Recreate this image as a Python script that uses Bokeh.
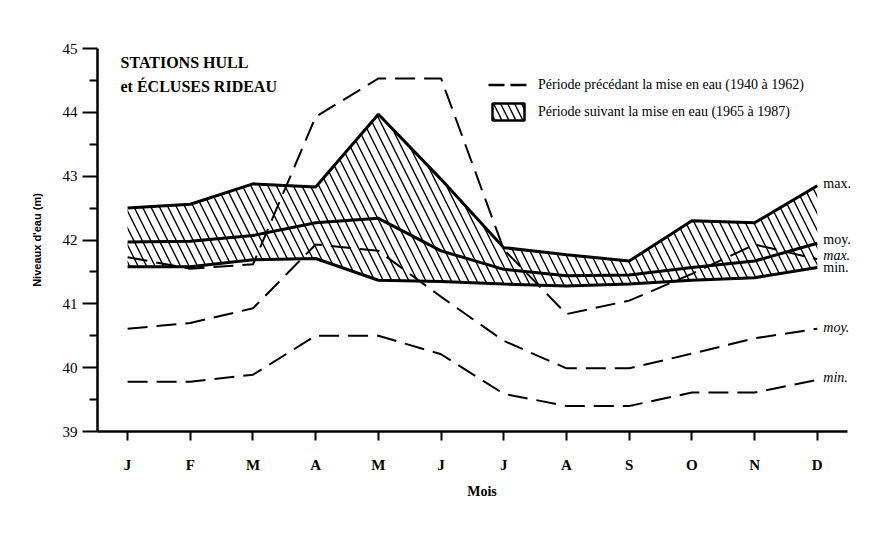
from bokeh.plotting import figure
from bokeh.models import Range1d, FixedTicker, Legend, LegendItem, Label
from bokeh.embed import file_html
from bokeh.resources import INLINE

# ---------------- data ----------------
months = ["J", "F", "M", "A", "M", "J", "J", "A", "S", "O", "N", "D"]
month_idx = list(range(1, 13))

# Période suivant la mise en eau (1965 à 1987) – solid lines, hatched band
post_max = [42.50, 42.56, 42.88, 42.83, 43.97, 42.95, 41.88, 41.77, 41.67, 42.30, 42.27, 42.85]
post_moy = [41.97, 41.98, 42.07, 42.27, 42.34, 41.83, 41.54, 41.44, 41.45, 41.57, 41.67, 41.95]
post_min = [41.58, 41.58, 41.69, 41.71, 41.37, 41.35, 41.31, 41.28, 41.31, 41.37, 41.41, 41.57]

# Période précédant la mise en eau (1940 à 1962) – dashed lines
pre_max = [41.73, 41.55, 41.62, 43.93, 44.53, 44.53, 41.85, 40.84, 41.05, 41.47, 41.93, 41.70]
pre_moy = [40.61, 40.70, 40.93, 41.93, 41.83, 41.11, 40.42, 39.99, 39.99, 40.22, 40.46, 40.61]
pre_min = [39.78, 39.78, 39.89, 40.50, 40.50, 40.21, 39.59, 39.40, 39.40, 39.61, 39.61, 39.81]

y_ticks = [39, 40, 41, 42, 43, 44, 45]
y_minor = [39.5, 40.5, 41.5, 42.5, 43.5, 44.5]

legend_labels = ["Période précédant la mise en eau (1940 à 1962)",
                 "Période suivant la mise en eau (1965 à 1987)"]
title_lines = ["STATIONS HULL", "et ÉCLUSES RIDEAU"]
right_labels = ["max.", "moy.", "max.", "min.", "moy.", "min."]
right_series = [post_max, post_moy, pre_max, post_min, pre_moy, pre_min]
right_italic = [False, False, True, False, True, True]
right_yoff = [2, 4, 4, 0, 1, 2]

SERIF = "Liberation Serif"
NAN = float("nan")

# ---------------- figure ----------------
p = figure(width=866, height=525, x_range=Range1d(0.52, 12.785), y_range=Range1d(39, 45),
           output_backend="svg", toolbar_location=None,
           min_border_left=97, min_border_top=48, min_border_right=0, min_border_bottom=94)
p.xgrid.visible = False
p.ygrid.visible = False
p.outline_line_color = None
p.background_fill_color = "white"

xa = p.xaxis[0]
xa.bounds = (0.52, 12.48)
xa.ticker = FixedTicker(ticks=month_idx)
xa.major_label_overrides = {i: m for i, m in zip(month_idx, months)}
xa.axis_line_width = 2.5
xa.major_tick_line_width = 2
xa.major_tick_out = 9
xa.major_tick_in = 0
xa.minor_tick_line_color = None
xa.major_label_standoff = 16
xa.major_label_text_font = SERIF
xa.major_label_text_font_style = "bold"
xa.major_label_text_font_size = "15px"
xa.major_label_text_color = "black"
xa.axis_label = "Mois"
xa.axis_label_text_font = SERIF
xa.axis_label_text_font_style = "bold"
xa.axis_label_text_font_size = "14px"
xa.axis_label_text_color = "black"
xa.axis_label_standoff = 8

ya = p.yaxis[0]
ya.ticker = FixedTicker(ticks=y_ticks, minor_ticks=y_minor)
ya.axis_line_width = 2.5
ya.major_tick_line_width = 2
ya.minor_tick_line_width = 2
ya.major_tick_out = 15
ya.major_tick_in = 0
ya.minor_tick_out = 8
ya.minor_tick_in = 0
ya.major_label_standoff = 5
ya.major_label_text_font = SERIF
ya.major_label_text_font_size = "15px"
ya.major_label_text_color = "black"
ya.axis_label = "Niveaux d'eau (m)"
ya.axis_label_text_font = "Liberation Sans"
ya.axis_label_text_font_style = "bold"
ya.axis_label_text_font_size = "11px"
ya.axis_label_text_color = "black"
ya.axis_label_standoff = 17

# hatched band (post period)
p.varea(x=month_idx, y1=post_min, y2=post_max, fill_color="white", fill_alpha=0,
        hatch_pattern="\\", hatch_color="black", hatch_weight=1.4, hatch_scale=17)

for ys in (post_max, post_moy, post_min):
    p.line(month_idx, ys, line_color="black", line_width=3)

for ys in (pre_max, pre_moy, pre_min):
    p.line(month_idx, ys, line_color="black", line_width=2, line_dash="20 9")

# legend swatches (renderers with no visible data)
dummy_line = p.line(x=[NAN], y=[NAN], line_color="black", line_width=2.5, line_dash="16 6")
dummy_box = p.quad(left=[NAN], right=[NAN], top=[NAN], bottom=[NAN], fill_color="white",
                   fill_alpha=0, hatch_pattern="\\", hatch_color="black", hatch_weight=1.4,
                   hatch_scale=14, line_color="black", line_width=2.5)
legend = Legend(items=[LegendItem(label=legend_labels[0], renderers=[dummy_line]),
                       LegendItem(label=legend_labels[1], renderers=[dummy_box])],
                location=(391, 309), glyph_width=40, glyph_height=21, label_height=21,
                label_standoff=10, spacing=6, padding=0, margin=0,
                border_line_color=None, background_fill_alpha=0,
                label_text_font=SERIF, label_text_font_size="14px",
                label_text_color="black")
p.add_layout(legend)

# title inside plot
for txt, yv in zip(title_lines, [44.775, 44.41]):
    p.add_layout(Label(x=0.887, y=yv, text=txt, text_font=SERIF, text_font_style="bold",
                       text_font_size="16px", text_baseline="middle", text_align="left",
                       text_color="black"))

# right-hand series labels
for txt, ys, it, yo in zip(right_labels, right_series, right_italic, right_yoff):
    p.add_layout(Label(x=month_idx[-1], y=ys[-1], text=txt, x_offset=6, y_offset=yo,
                       text_font=SERIF, text_font_style="italic" if it else "normal",
                       text_font_size="14px", text_baseline="middle", text_align="left",
                       text_color="black"))

open("out.html", "w").write(file_html(p, INLINE))
